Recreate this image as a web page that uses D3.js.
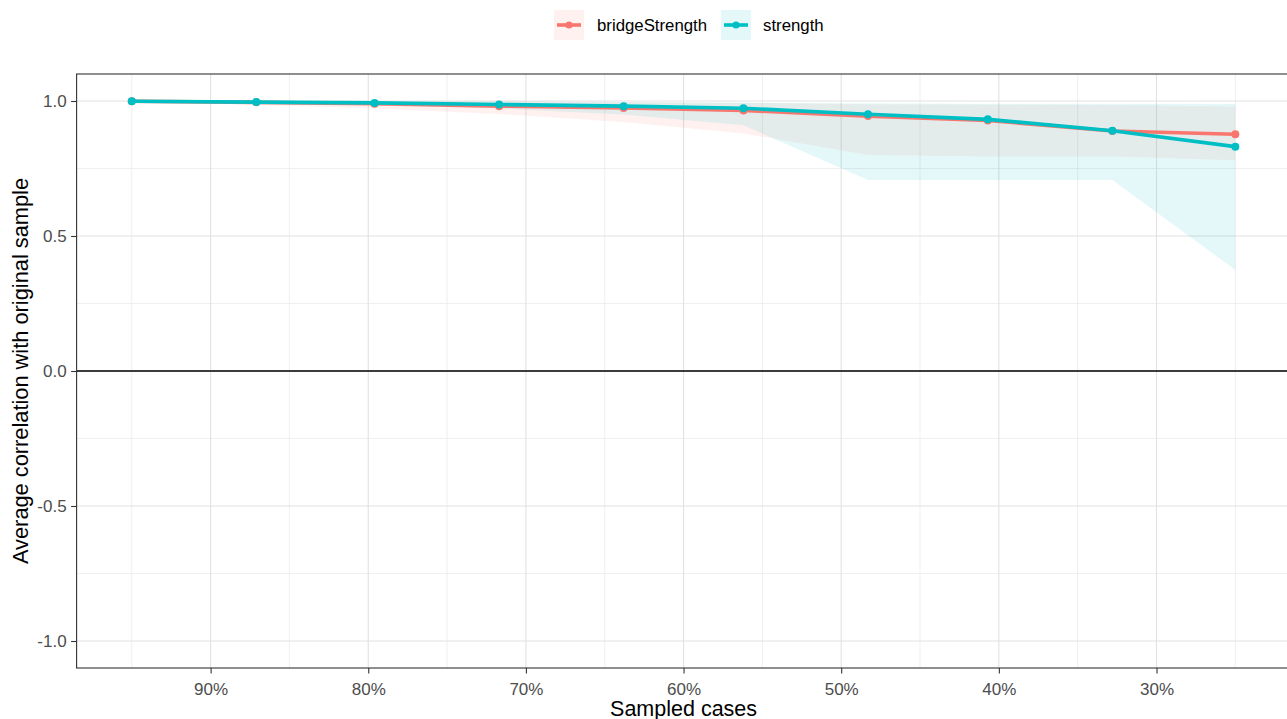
<!DOCTYPE html>
<html>
<head>
<meta charset="utf-8">
<script src="https://cdn.jsdelivr.net/npm/d3@7"></script>
<style>
  html, body { margin: 0; padding: 0; background: #ffffff; }
  svg { display: block; font-family: "Liberation Sans", Arial, sans-serif; }
</style>
</head>
<body>
<svg id="chart" width="1287" height="719"></svg>
<script>
// ---------------- data ----------------
const sampledCases = [0.950, 0.871, 0.796, 0.717, 0.638, 0.562, 0.483, 0.407, 0.328, 0.250];

const bridgeStrengthMean  = [0.999, 0.995, 0.990, 0.981, 0.974, 0.965, 0.944, 0.928, 0.889, 0.877];
const bridgeStrengthLower = [0.996, 0.986, 0.972, 0.952, 0.922, 0.880, 0.800, 0.794, 0.794, 0.781];
const bridgeStrengthUpper = [1.000, 1.000, 0.999, 0.998, 0.996, 0.993, 0.988, 0.986, 0.985, 0.980];

const strengthMean  = [0.999, 0.996, 0.993, 0.987, 0.981, 0.973, 0.951, 0.932, 0.890, 0.831];
const strengthLower = [0.997, 0.993, 0.985, 0.972, 0.950, 0.910, 0.707, 0.707, 0.707, 0.374];
const strengthUpper = [1.000, 1.000, 0.999, 0.998, 0.996, 0.994, 0.991, 0.990, 0.990, 0.989];

const seriesNames  = ["bridgeStrength", "strength"];
const seriesColors = ["#F8766D", "#00BFC4"];

const xMajorTicks = [0.9, 0.8, 0.7, 0.6, 0.5, 0.4, 0.3];
const xMinorTicks = [0.95, 0.85, 0.75, 0.65, 0.55, 0.45, 0.35, 0.25];
const yMajorTicks = [-1.0, -0.5, 0.0, 0.5, 1.0];
const yMinorTicks = [-0.75, -0.25, 0.25, 0.75];
const xTickLabels = ["90%", "80%", "70%", "60%", "50%", "40%", "30%"];
const yTickLabels = ["-1.0", "-0.5", "0.0", "0.5", "1.0"];

const xTitle = "Sampled cases";
const yTitle = "Average correlation with original sample";

// ---------------- build ----------------
const series = [
  { name: seriesNames[0], color: seriesColors[0], mean: bridgeStrengthMean, lo: bridgeStrengthLower, hi: bridgeStrengthUpper },
  { name: seriesNames[1], color: seriesColors[1], mean: strengthMean, lo: strengthLower, hi: strengthUpper }
].map(s => ({ ...s, pts: sampledCases.map((x, i) => ({ x, y: s.mean[i], lo: s.lo[i], hi: s.hi[i] })) }));

const svg = d3.select("#chart");
const panel = { left: 76.6, right: 1290.5, top: 74, bottom: 668 };

const x = d3.scaleLinear().domain([0.985, 0.215]).range([panel.left, panel.right]);
const y = d3.scaleLinear().domain([-1.1, 1.1]).range([panel.bottom, panel.top]);

svg.append("defs").append("clipPath").attr("id", "clip")
  .append("rect").attr("x", panel.left).attr("y", panel.top)
  .attr("width", panel.right - panel.left).attr("height", panel.bottom - panel.top);

const g = svg.append("g");

// grid
const grid = g.append("g");
grid.selectAll(".xminor").data(xMinorTicks).join("line")
  .attr("x1", d => x(d)).attr("x2", d => x(d)).attr("y1", panel.top).attr("y2", panel.bottom)
  .attr("stroke", "#ebebeb").attr("stroke-width", 0.8);
grid.selectAll(".yminor").data(yMinorTicks).join("line")
  .attr("y1", d => y(d)).attr("y2", d => y(d)).attr("x1", panel.left).attr("x2", panel.right)
  .attr("stroke", "#ebebeb").attr("stroke-width", 0.8);
grid.selectAll(".xmajor").data(xMajorTicks).join("line")
  .attr("x1", d => x(d)).attr("x2", d => x(d)).attr("y1", panel.top).attr("y2", panel.bottom)
  .attr("stroke", "#e2e2e2").attr("stroke-width", 1.1);
grid.selectAll(".ymajor").data(yMajorTicks).join("line")
  .attr("y1", d => y(d)).attr("y2", d => y(d)).attr("x1", panel.left).attr("x2", panel.right)
  .attr("stroke", "#e2e2e2").attr("stroke-width", 1.1);

const plot = g.append("g").attr("clip-path", "url(#clip)");

// ribbons
const area = d3.area().x(d => x(d.x)).y0(d => y(d.lo)).y1(d => y(d.hi));
plot.selectAll(".ribbon").data(series).join("path")
  .attr("d", d => area(d.pts)).attr("fill", d => d.color).attr("fill-opacity", 0.1);

// zero line
plot.append("line").attr("x1", panel.left).attr("x2", panel.right)
  .attr("y1", y(0)).attr("y2", y(0)).attr("stroke", "#000").attr("stroke-width", 1.4);

// lines and points
const line = d3.line().x(d => x(d.x)).y(d => y(d.y));
series.forEach(s => {
  plot.append("path").attr("d", line(s.pts)).attr("fill", "none")
    .attr("stroke", s.color).attr("stroke-width", 3.6).attr("stroke-linejoin", "round");
  plot.selectAll(null).data(s.pts).join("circle")
    .attr("cx", d => x(d.x)).attr("cy", d => y(d.y)).attr("r", 4).attr("fill", s.color);
});

// border
g.append("rect").attr("x", panel.left).attr("y", panel.top)
  .attr("width", panel.right - panel.left).attr("height", panel.bottom - panel.top)
  .attr("fill", "none").attr("stroke", "#333333").attr("stroke-width", 1.1);

// axes
const xAxis = d3.axisBottom(x).tickValues(xMajorTicks)
  .tickFormat((d, i) => xTickLabels[i]).tickSize(5.5).tickPadding(9);
const xa = g.append("g").attr("transform", `translate(0,${panel.bottom})`).call(xAxis);
xa.select(".domain").remove();
xa.selectAll(".tick line").attr("stroke", "#333333").attr("stroke-width", 1.1);
xa.selectAll(".tick text").attr("fill", "#4d4d4d").attr("font-size", "17px")
  .attr("font-family", "Liberation Sans, Arial, sans-serif");

const yAxis = d3.axisLeft(y).tickValues(yMajorTicks)
  .tickFormat((d, i) => yTickLabels[i]).tickSize(5.5).tickPadding(4.5);
const ya = g.append("g").attr("transform", `translate(${panel.left},0)`).call(yAxis);
ya.select(".domain").remove();
ya.selectAll(".tick line").attr("stroke", "#333333").attr("stroke-width", 1.1);
ya.selectAll(".tick text").attr("fill", "#4d4d4d").attr("font-size", "17px")
  .attr("font-family", "Liberation Sans, Arial, sans-serif");

// titles
svg.append("text").attr("x", (panel.left + panel.right) / 2).attr("y", 715.5)
  .attr("text-anchor", "middle").attr("font-size", "21.5px").attr("fill", "#000").text(xTitle);
svg.append("text").attr("transform", `translate(27.5,${(panel.top + panel.bottom) / 2}) rotate(-90)`)
  .attr("text-anchor", "middle").attr("font-size", "21.8px").attr("fill", "#000").text(yTitle);

// legend
const legendX = [554, 721];
const leg = svg.append("g");
series.forEach((s, i) => {
  const lg = leg.append("g").attr("transform", `translate(${legendX[i]},10)`);
  lg.append("rect").attr("width", 30).attr("height", 30).attr("fill", s.color).attr("fill-opacity", 0.1);
  lg.append("line").attr("x1", 3).attr("x2", 27).attr("y1", 15).attr("y2", 15)
    .attr("stroke", s.color).attr("stroke-width", 3.6);
  lg.append("circle").attr("cx", 15).attr("cy", 15).attr("r", 3.6).attr("fill", s.color);
  lg.append("text").attr("x", i === 0 ? 43 : 42).attr("y", 21.2)
    .attr("font-size", "16.8px").attr("fill", "#000").text(s.name);
});
</script>
</body>
</html>
